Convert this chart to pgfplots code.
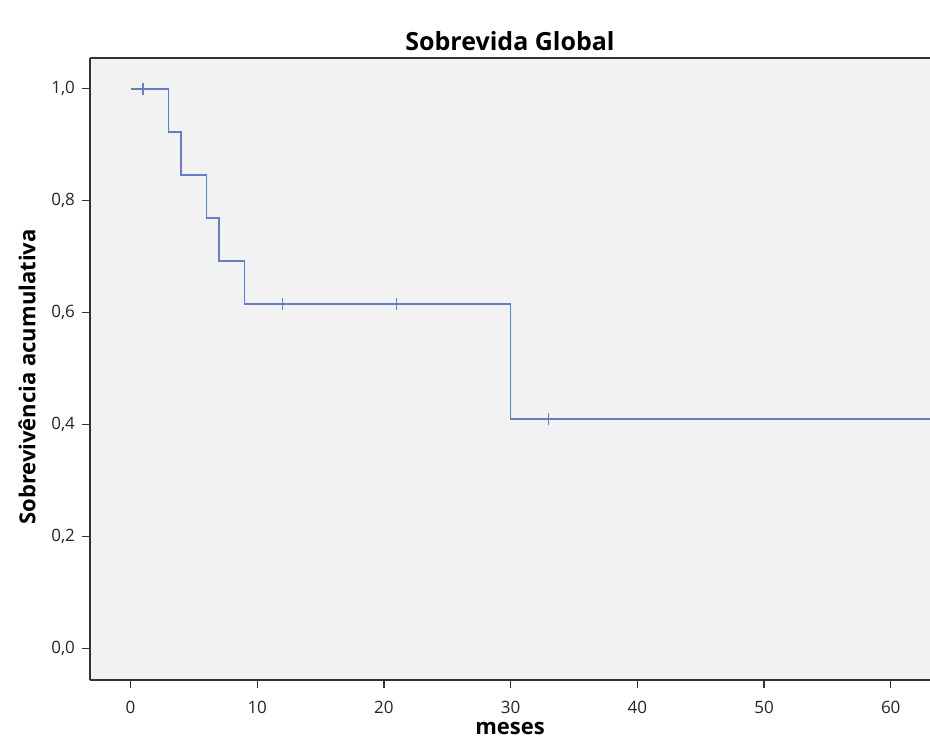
\documentclass[border=0pt]{standalone}
\usepackage{pgfplots}
\pgfplotsset{compat=1.18}
\usepackage{fontspec}
\setmainfont{Open Sans}
\definecolor{kmblue}{RGB}{100,125,195}
\definecolor{bgray}{RGB}{242,242,242}
\begin{document}
\begin{tikzpicture}[x=1pt,y=1pt]
\begin{axis}[
  at={(0,0)}, anchor=south west,
  scale only axis, width=420pt, height=311pt,
  xmin=-3.2, xmax=63.1, ymin=-0.057, ymax=1.055,
  axis x line=box, axis y line=left,
  axis line style={black!80, line width=0.8pt, -},
  x axis line style={-}, y axis line style={-},
  axis background/.style={fill=bgray},
  xtick={0,10,20,30,40,50,60},
  ytick={0,0.2,0.4,0.6,0.8,1.0},
  xtick pos=bottom, ytick pos=left,
  tick align=outside, major tick length=4pt,
  tick style={black!80, line width=0.6pt},
  y tick label style={/pgf/number format/.cd, use comma, fixed, fixed zerofill, precision=1},
  x tick label style={yshift=-3pt},
  /pgf/number format/assume math mode=true,
  tick label style={font=\fontsize{8.5}{10}\selectfont, text=black!85},
  title={\bfseries Sobrevida Global},
  title style={font=\fontsize{12.5}{14}\selectfont, yshift=-6pt},
  xlabel={\bfseries meses},
  ylabel={\bfseries Sobrevivência acumulativa},
  label style={font=\fontsize{11}{13}\selectfont},
  xlabel style={yshift=0pt, inner sep=1pt},
  ylabel style={yshift=1pt, xshift=-4pt},
  clip=true,
]
\addplot[const plot, color=kmblue, line width=0.8pt] coordinates {
(0,1.0) (3,0.923) (4,0.846) (6,0.769) (7,0.692) (9,0.615) (30,0.410) (64,0.410)
};
\addplot[only marks, mark=+, mark size=3pt, color=kmblue, mark options={line width=0.8pt}] coordinates {
(1,1.0) (12,0.615) (21,0.615) (33,0.410)
};
\end{axis}
\pgfresetboundingbox
\path (-45pt,-31pt) rectangle (420pt,340pt);
\end{tikzpicture}
\end{document}
